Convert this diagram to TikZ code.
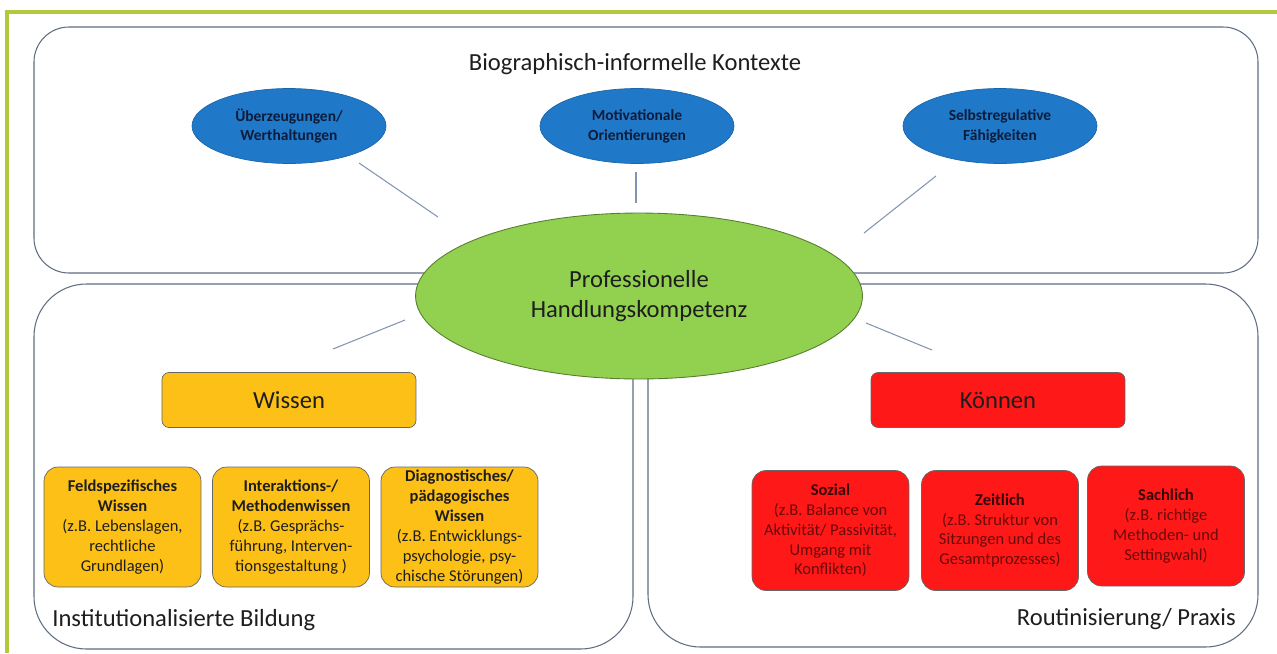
\documentclass[tikz,border=0pt]{standalone}
\usepackage{fontspec}
\setmainfont{Carlito}
\usepackage{tikz}
\usetikzlibrary{shapes.geometric}

\definecolor{framegreen}{RGB}{180,200,62}
\definecolor{boxline}{RGB}{95,110,130}
\definecolor{linkline}{RGB}{130,150,178}
\definecolor{kblue}{RGB}{32,120,200}
\definecolor{kgreen}{RGB}{146,208,80}
\definecolor{kyellow}{RGB}{253,192,22}
\definecolor{kred}{RGB}{255,24,24}
\definecolor{navy}{RGB}{14,28,58}
\definecolor{darkred}{RGB}{55,6,6}
\definecolor{midred}{RGB}{105,10,10}
\definecolor{textgray}{RGB}{30,30,30}

\begin{document}
\begin{tikzpicture}[
        x=0.02cm, y=-0.02cm,
        area/.style={draw=boxline, line width=0.6pt},
        link/.style={draw=linkline, line width=0.6pt},
        bigtext/.style={font=\fontsize{14}{17.4}\selectfont, text=textgray},
        haltung/.style={ellipse, draw=kblue!85!black, fill=kblue, line width=0.4pt,
            inner sep=0pt, minimum width=3.88cm, minimum height=1.5cm, align=center,
            text=navy, font=\fontsize{8.8}{11.3}\selectfont\bfseries},
        kern/.style={ellipse, draw=kgreen!60!black, fill=kgreen, line width=0.5pt,
            inner sep=0pt, minimum width=8.94cm, minimum height=3.32cm, align=center,
            bigtext},
        saeule/.style={rectangle, rounded corners=4pt, draw=gray!80!black, line width=0.4pt,
            inner sep=0pt, minimum width=5.08cm, minimum height=1.1cm, bigtext},
        teil/.style={rectangle, rounded corners=8pt, draw=gray!80!black, line width=0.4pt,
            inner sep=0pt, minimum width=3.14cm, minimum height=2.4cm, align=center,
            font=\fontsize{9.4}{11.3}\selectfont}
    ]
        \useasboundingbox (0,0) rectangle (1277,653);
        \fill[white] (0,0) rectangle (1277,653);
        \draw[framegreen, line width=2.3pt] (7,653) -- (7,12) -- (1277,12);

        % three areas
        \draw[area, rounded corners=0.7cm] (34,27) rectangle (1258,273);
        \draw[area, rounded corners=1.05cm] (34,284) rectangle (633,649);
        \draw[area, rounded corners=1.05cm] (648,284) rectangle (1258,647);

        \node[bigtext, anchor=base] (kontexte) at (635,70) {Biographisch-informelle Kontexte};
        \node[bigtext, inner sep=0pt, anchor=base west] (bildung) at (52,626) {Institutionalisierte Bildung};
        \node[bigtext, inner sep=0pt, anchor=base east] (praxis) at (1236,625) {Routinisierung/ Praxis};

        \node[haltung] (werte) at (289,126) {Überzeugungen/\\Werthaltungen};
        \node[haltung] (motiv) at (637,126) {Motivationale\\Orientierungen};
        \node[haltung] (selbst) at (1000,126) {Selbstregulative\\Fähigkeiten};

        % free connector ends
        \coordinate (w1) at (359,163);
        \coordinate (w2) at (438,217);
        \coordinate (m1) at (636,172);
        \coordinate (m2) at (636,203);
        \coordinate (s1) at (936,176);
        \coordinate (s2) at (864,233);
        \coordinate (b1) at (405,320);
        \coordinate (b2) at (333,349);
        \coordinate (p1) at (866,323);
        \coordinate (p2) at (932,350);

        \draw[link] (w1) -- (w2);
        \draw[link] (m1) -- (m2);
        \draw[link] (s1) -- (s2);
        \draw[link] (b1) -- (b2);
        \draw[link] (p1) -- (p2);

        \node[kern] (kompetenz) at (639,296) {Professionelle\\Handlungskompetenz};

        \node[saeule, fill=kyellow] (wissen) at (289,400) {Wissen};
        \node[saeule, fill=kred] (koennen) at (998,400) {Können};

        \node[teil, fill=kyellow, text=textgray] (feld) at (122.5,527)
            {\textbf{Feldspezifisches}\\\textbf{Wissen}\\(z.B. Lebenslagen,\\rechtliche\\Grundlagen)};
        \node[teil, fill=kyellow, text=textgray] (methode) at (291,527)
            {\textbf{Interaktions-/}\\\textbf{Methodenwissen}\\(z.B. Gesprächs-\\führung, Interven-\\tionsgestaltung )};
        \node[teil, fill=kyellow, text=textgray] (diagnose) at (459.5,527)
            {\textbf{Diagnostisches/}\\\textbf{pädagogisches}\\\textbf{Wissen}\\(z.B. Entwicklungs-\\psychologie, psy-\\chische Störungen)};

        \node[teil, fill=kred, text=midred] (sozial) at (830.5,530.5)
            {\textbf{\textcolor{darkred}{Sozial}}\\(z.B. Balance von\\Aktivität/ Passivität,\\Umgang mit\\Konflikten)};
        \node[teil, fill=kred, text=midred] (zeit) at (1000,530.5)
            {\textbf{\textcolor{darkred}{Zeitlich}}\\(z.B. Struktur von\\Sitzungen und des\\Gesamtprozesses)};
        \node[teil, fill=kred, text=midred] (sache) at (1166,526)
            {\textbf{\textcolor{darkred}{Sachlich}}\\(z.B. richtige\\Methoden- und\\Settingwahl)};

    \end{tikzpicture}
\end{document}
